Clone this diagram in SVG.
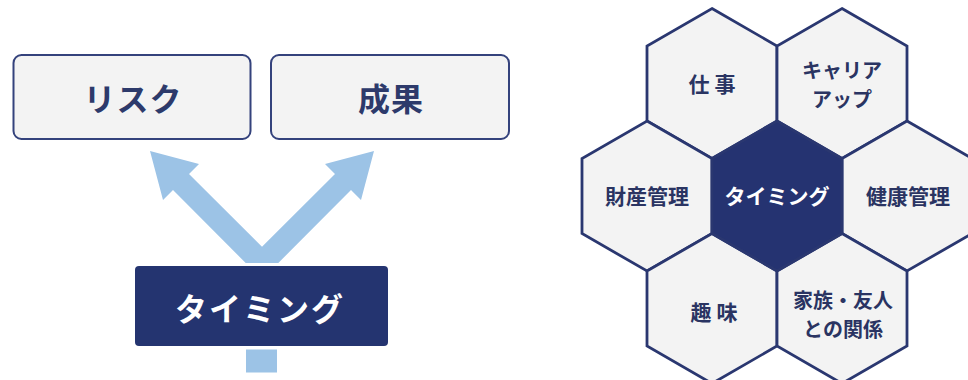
<svg xmlns="http://www.w3.org/2000/svg" width="968" height="380" viewBox="0 0 968 380">
<style>
.lbox{fill:#f3f3f3;stroke:#34427c;stroke-width:2}
.big{font-family:"Noto Sans CJK JP","Noto Sans",sans-serif;font-weight:bold;font-size:32px;text-anchor:middle;dominant-baseline:central}
.hex{fill:#f3f3f3;stroke:#2a3770;stroke-width:2.8;stroke-linejoin:miter}
.hexc{fill:#253371;stroke:#2a3770;stroke-width:2.8}
.ht{font-family:"Noto Sans CJK JP","Noto Sans",sans-serif;font-weight:bold;font-size:21px;text-anchor:middle;dominant-baseline:central;fill:#2a3462}
.ht2{font-size:20px}
</style>
<defs>
<polygon id="hx" points="0,-75 65,-37.5 65,37.5 0,75 -65,37.5 -65,-37.5"/>
</defs>
<rect width="968" height="380" fill="#ffffff"/>
<g id="connectors">
<polygon fill="#9cc3e6" points="150,151 199,164 189,174 262,246.7 335,174 325,164 374,151 361,200 351,190 278.3,263 245.7,263 173,190 163,200"/>
<rect x="246" y="349.5" width="31" height="23" fill="#9cc3e6"/>
</g>
<g id="risk">
<rect class="lbox" x="13.5" y="55" width="237" height="84" rx="8"/>
<text class="big" x="133" y="97" fill="#2d3a6b" letter-spacing="1">リスク</text>
</g>
<g id="seika">
<rect class="lbox" x="271" y="55" width="238" height="84" rx="8"/>
<text class="big" x="391" y="97" fill="#2d3a6b" letter-spacing="1">成果</text>
</g>
<g id="timing-box">
<rect x="135" y="266" width="253" height="80" rx="4" fill="#243470"/>
<text class="big" x="260" y="307" fill="#ffffff" letter-spacing="2">タイミング</text>
</g>
<g id="hex-shigoto">
<use href="#hx" class="hex" x="712" y="83.5"/>
<text class="ht" x="712" y="83">仕 事</text>
</g>
<g id="hex-career">
<use href="#hx" class="hex" x="842" y="83.5"/>
<text class="ht ht2" x="842" y="69"><tspan x="842" y="69">キャリア</tspan><tspan x="842" y="98">アップ</tspan></text>
</g>
<g id="hex-zaisan">
<use href="#hx" class="hex" x="647" y="196"/>
<text class="ht" x="647" y="195">財産管理</text>
</g>
<g id="hex-kenko">
<use href="#hx" class="hex" x="907" y="196"/>
<text class="ht" x="908" y="195">健康管理</text>
</g>
<g id="hex-shumi">
<use href="#hx" class="hex" x="712" y="308.5"/>
<text class="ht" x="714" y="311">趣 味</text>
</g>
<g id="hex-kazoku">
<use href="#hx" class="hex" x="842" y="308.5"/>
<text class="ht ht2" x="843" y="299"><tspan x="843" y="299">家族・友人</tspan><tspan x="843" y="328">との関係</tspan></text>
</g>
<g id="hex-timing">
<use href="#hx" class="hexc" x="777" y="196"/>
<text class="ht" x="777" y="195" style="fill:#ffffff">タイミング</text>
</g>
</svg>
